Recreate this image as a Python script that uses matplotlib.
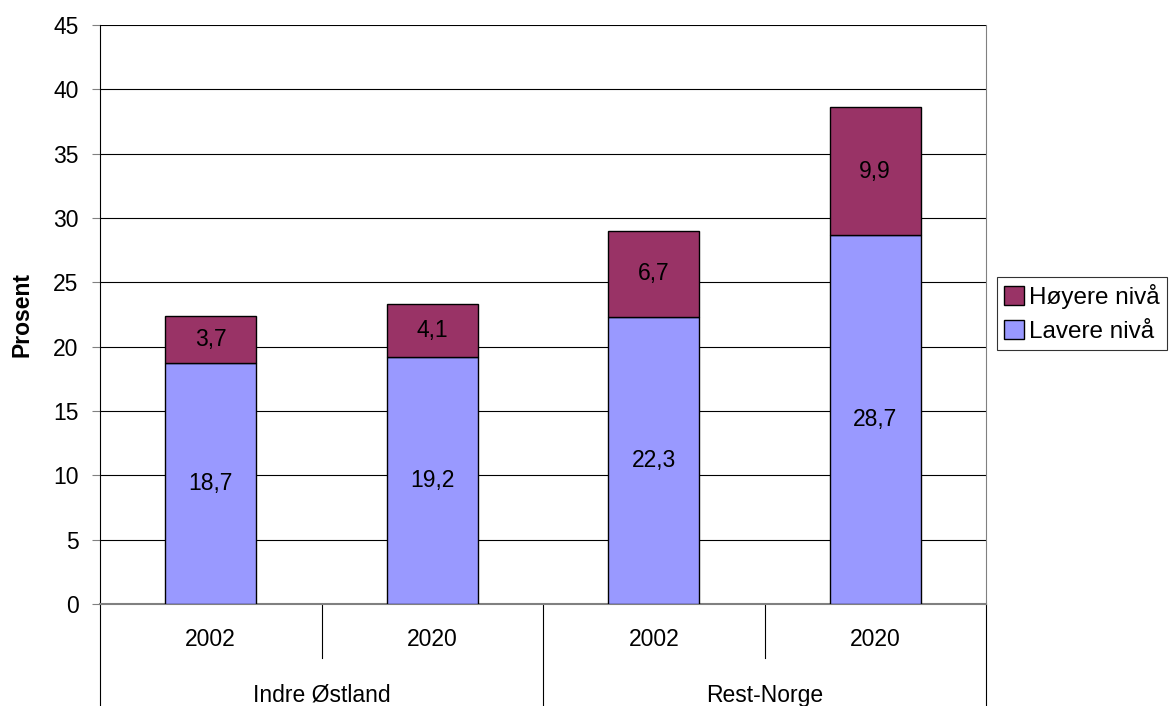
import numpy as np
import matplotlib.pyplot as plt
import matplotlib.transforms as mtransforms

plt.rcParams['font.family'] = ['Liberation Sans', 'DejaVu Sans']

years = ["2002", "2020", "2002", "2020"]
regions = ["Indre Østland", "Rest-Norge"]
lavere = [18.7, 19.2, 22.3, 28.7]
hoyere = [3.7, 4.1, 6.7, 9.9]

fs = 16.5

fig = plt.figure(figsize=(11.74, 7.06), dpi=100)
ax = fig.add_axes([100 / 1174, 1 - 604 / 706, 886 / 1174, 579 / 706])

x = np.arange(len(years))
w = 0.41
b1 = ax.bar(x, lavere, w, color="#9999FF", edgecolor="black", linewidth=1,
            label="Lavere nivå", zorder=3)
b2 = ax.bar(x, hoyere, w, bottom=lavere, color="#993366", edgecolor="black",
            linewidth=1, label="Høyere nivå", zorder=3)

for i in range(len(x)):
    ax.text(x[i], lavere[i] / 2, f"{lavere[i]:.1f}".replace(".", ","),
            ha="center", va="center", fontsize=fs, zorder=4)
    ax.text(x[i], lavere[i] + hoyere[i] / 2, f"{hoyere[i]:.1f}".replace(".", ","),
            ha="center", va="center", fontsize=fs, zorder=4)

ax.set_xlim(-0.5, 3.5)
ax.set_ylim(0, 45)
ax.set_yticks(np.arange(0, 46, 5))
ax.yaxis.grid(True, color="black", linewidth=0.8, zorder=0)
ax.tick_params(axis="y", labelsize=fs, length=6, color="#808080", pad=9.5)
ax.set_xticks([])
ax.set_ylabel("Prosent", fontsize=fs, fontweight="bold")
ax.yaxis.set_label_coords(-0.0756, 0.5)

ax.spines["top"].set_visible(False)
ax.spines["right"].set_color("#808080")
ax.spines["left"].set_color("black")
ax.spines["bottom"].set_color("#808080")
ax.spines["bottom"].set_linewidth(1.5)

# category labels below the axis
trans = mtransforms.blended_transform_factory(ax.transData, ax.transAxes)
for i, yr in enumerate(years):
    ax.text(x[i], -0.062, yr, transform=trans, ha="center", va="center", fontsize=fs)
for j, reg in enumerate(regions):
    ax.text(0.5 + 2 * j, -0.158, reg, transform=trans, ha="center", va="center", fontsize=fs)

for xs in [0.5, 2.5]:
    ax.plot([xs, xs], [0, -0.093], transform=trans, color="black", linewidth=0.8, clip_on=False)
for xs in [-0.5, 1.5, 3.5]:
    ax.plot([xs, xs], [0, -0.2], transform=trans, color="black", linewidth=0.8, clip_on=False)

handles = [b2, b1]
leg = fig.legend(handles, [h.get_label() for h in handles], loc="upper left",
                 bbox_to_anchor=(997 / 1174, 1 - 277 / 706), fontsize=17.5,
                 frameon=True, fancybox=False, edgecolor="black",
                 handlelength=0.82, handleheight=0.82, handletextpad=0.2,
                 borderpad=0.3, labelspacing=0.45, borderaxespad=0)
leg.get_frame().set_linewidth(0.8)

fig.savefig("out.png", dpi=100)
